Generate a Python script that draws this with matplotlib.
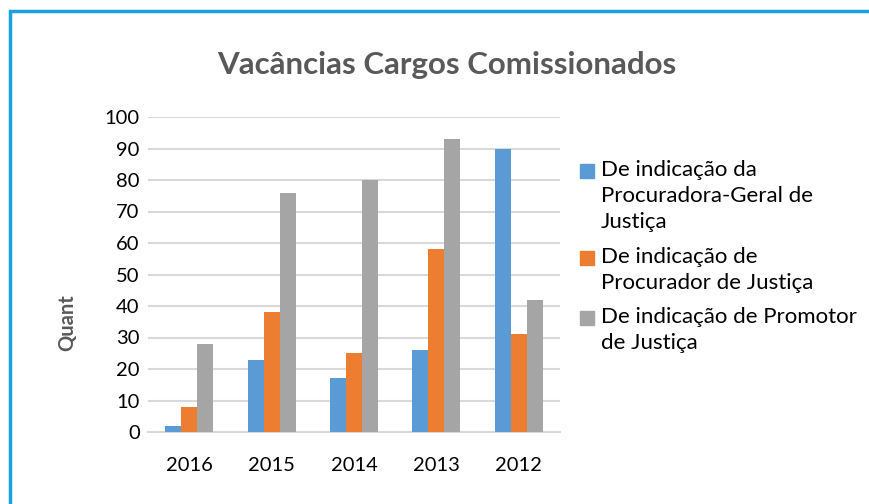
import matplotlib.pyplot as plt
import matplotlib.patches as mpatches
import numpy as np

plt.rcParams['font.family'] = ['Lato', 'DejaVu Sans']

# data
anos = ['2016', '2015', '2014', '2013', '2012']
procuradora_geral = [2, 23, 17, 26, 90]
procurador = [8, 38, 25, 58, 31]
promotor = [28, 76, 80, 93, 42]
rotulos = ['De indicação da\nProcuradora-Geral de\nJustiça',
           'De indicação de\nProcurador de Justiça',
           'De indicação de Promotor\nde Justiça']
cores = ['#5B9BD5', '#ED7D31', '#A5A5A5']

W, H = 869, 504
fig = plt.figure(figsize=(W / 100, H / 100), dpi=100)
ax = fig.add_axes([148 / W, 1 - 432 / H, 412 / W, 315 / H])

x = np.arange(len(anos))
largura = 0.194
series = [procuradora_geral, procurador, promotor]
for i, (vals, cor) in enumerate(zip(series, cores)):
    ax.bar(x + (i - 1) * largura, vals, largura, color=cor, zorder=3)

ax.set_xlim(-0.5, len(anos) - 0.5)
ax.set_ylim(0, 100)
ax.set_yticks(range(0, 101, 10))
ax.set_xticks(x)
ax.set_xticklabels(anos)
ax.yaxis.grid(True, color='#D9D9D9', linewidth=1.5, zorder=0)
for s in ['top', 'right', 'left']:
    ax.spines[s].set_visible(False)
ax.spines['bottom'].set_color('#D9D9D9')
ax.spines['bottom'].set_linewidth(1.5)
ax.tick_params(axis='both', length=0, labelsize=14.5, colors='black')
ax.tick_params(axis='x', pad=18)
ax.tick_params(axis='y', pad=6)

# rótulo do eixo y
fig.text(67 / W, 1 - 323 / H, 'Quant', rotation=90, ha='center', va='center',
         fontsize=14.5, fontweight='bold', color='#595959')

fig.text(447 / W, 1 - 65 / H, 'Vacâncias Cargos Comissionados', ha='center', va='center',
         fontsize=22.5, fontweight='bold', color='#595959')

# legenda manual (alinhada à primeira linha de cada item)
topos = [171, 258, 318]
for rot, cor, yc in zip(rotulos, cores, topos):
    fig.patches.append(mpatches.Rectangle((580 / W, 1 - (yc + 7) / H), 14 / W, 14 / H,
                                          transform=fig.transFigure, color=cor))
    fig.text(601 / W, 1 - (yc - 11) / H, rot, ha='left', va='top', fontsize=16,
             linespacing=1.36, color='black')

# moldura azul
fig.patches.append(mpatches.Rectangle((10 / W, -0.1), 1.2, 1 - 11 / H + 0.1,
                                      transform=fig.transFigure, fill=False,
                                      edgecolor='#1BA1E2', linewidth=2.5))

fig.savefig('out.png', dpi=100)
